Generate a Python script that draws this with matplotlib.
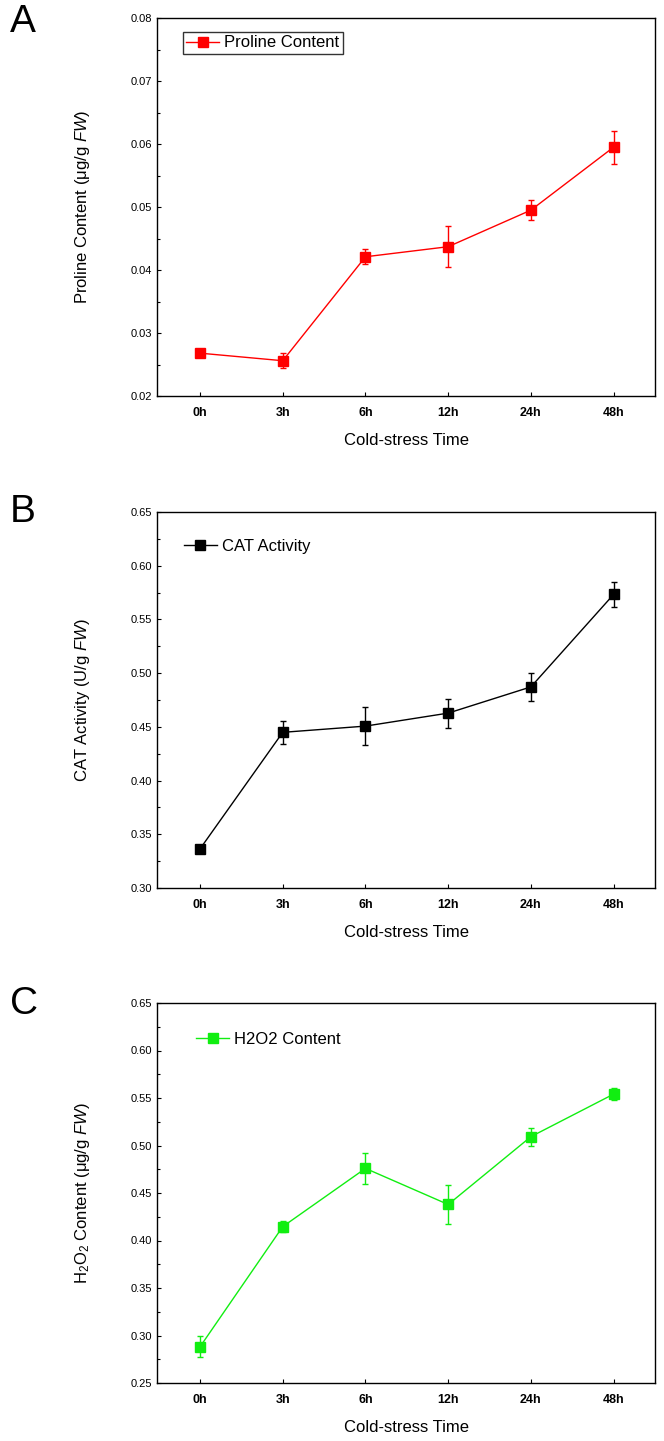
import matplotlib
matplotlib.use('Agg')
import matplotlib.pyplot as plt
from matplotlib.ticker import MultipleLocator

plt.rcParams['font.family'] = ['Liberation Sans Narrow', 'Liberation Sans', 'DejaVu Sans']
plt.rcParams['mathtext.fontset'] = 'custom'
plt.rcParams['mathtext.rm'] = 'Liberation Sans'
plt.rcParams['mathtext.it'] = 'Liberation Sans:italic'

# 数据
times = ['0h', '3h', '6h', '12h', '24h', '48h']

proline = [0.0268, 0.0256, 0.0421, 0.0437, 0.0495, 0.0595]
proline_err = [0.0003, 0.0012, 0.0012, 0.0033, 0.0016, 0.0026]

cat = [0.3364, 0.4449, 0.4507, 0.4628, 0.4872, 0.5733]
cat_err = [0.004, 0.011, 0.0176, 0.0134, 0.0128, 0.0113]

h2o2 = [0.2881, 0.4146, 0.4759, 0.4379, 0.5093, 0.5541]
h2o2_err = [0.011, 0.006, 0.0167, 0.021, 0.0093, 0.0067]

W, H = 664, 1441
fig = plt.figure(figsize=(W / 100, H / 100), dpi=100)


def panel(top, bottom, letter, letter_y, vals, errs, color, label, ylabel,
          ylim, step, legend_frame, leg_xy):
    ax = fig.add_axes([157 / W, (H - bottom) / H, (655 - 157) / W, (bottom - top) / H])
    x = list(range(len(times)))
    ax.errorbar(x, vals, yerr=errs, color=color, fmt='none',
                elinewidth=1, capsize=2.5, capthick=1)
    ax.plot(x, vals, color=color, marker='s', ms=7, lw=1, label=label)
    ax.set_xlim(-0.52, 5.5)
    ax.set_xticks(x)
    ax.set_xticklabels(times, fontsize=9, fontweight='bold')
    ax.yaxis.set_major_locator(MultipleLocator(step))
    ax.yaxis.set_minor_locator(MultipleLocator(step / 2))
    ax.set_ylim(*ylim)
    ax.set_yticks(ax.get_yticks())
    ax.set_yticklabels(['%.2f' % v for v in ax.get_yticks()], fontsize=8)
    ax.set_ylim(*ylim)
    ax.tick_params(direction='in', length=3, width=0.8)
    ax.tick_params(which='minor', direction='in', length=2, width=0.8)
    ax.tick_params(axis='x', pad=8)
    for s in ax.spines.values():
        s.set_linewidth(1)
    ax.set_xlabel('Cold-stress Time', fontsize=12, labelpad=10)
    ax.set_ylabel(ylabel, fontsize=12, family=['Liberation Sans'], labelpad=28)
    leg = ax.legend(loc='upper left', bbox_to_anchor=leg_xy, fontsize=12,
                    frameon=legend_frame, fancybox=False, edgecolor='black',
                    handlelength=2.0, handletextpad=0.3, borderpad=0.2)
    if legend_frame:
        leg.get_frame().set_linewidth(1)
    fig.text(10 / W, 1 - letter_y / H, letter, fontsize=28,
             family=['Liberation Sans'], va='center', ha='left')
    return ax


panel(18, 396, 'A', 22, proline, proline_err, '#ff0000', 'Proline Content',
      'Proline Content (μg/g $\\mathit{FW}$)', (0.02, 0.08), 0.01,
      True, (0.035, 0.985))
panel(512, 888, 'B', 512, cat, cat_err, 'black', 'CAT Activity',
      'CAT Activity (U/g $\\mathit{FW}$)', (0.30, 0.65), 0.05,
      False, (0.03, 0.96))
panel(1003, 1383, 'C', 1004, h2o2, h2o2_err, '#11ee11', 'H2O2 Content',
      'H$_2$O$_2$ Content (μg/g $\\mathit{FW}$)', (0.25, 0.65), 0.05,
      False, (0.055, 0.955))

fig.savefig('out.png', dpi=100, facecolor='white')
